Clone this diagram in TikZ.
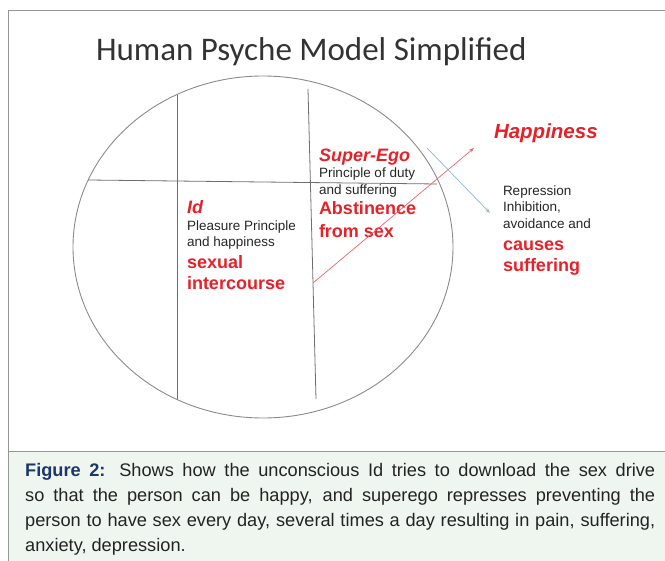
\documentclass[tikz,border=0pt]{standalone}
\usepackage{fontspec}
\setmainfont{Liberation Sans}
\newfontfamily\titlefont{Carlito}
\usetikzlibrary{arrows.meta}
\definecolor{redtxt}{RGB}{232,32,40}
\definecolor{redline}{RGB}{235,100,105}
\definecolor{blueline}{RGB}{140,180,225}
\definecolor{frame}{RGB}{150,150,150}
\definecolor{capbg}{RGB}{239,246,239}
\definecolor{navy}{RGB}{30,55,105}
\definecolor{captxt}{RGB}{35,35,35}
\definecolor{psy}{RGB}{110,110,110}
\tikzset{
  lbl/.style={anchor=base west,inner sep=0pt,outer sep=0pt},
  small/.style={lbl,font=\fontsize{13.5}{16}\selectfont,text=black!85},
  bigred/.style={lbl,font=\fontsize{18}{22}\selectfont\bfseries,text=redtxt},
  itred/.style={lbl,font=\fontsize{18}{22}\selectfont\bfseries\itshape,text=redtxt},
  divider/.style={draw=psy,line width=0.8pt},
  tip/.style={-{Stealth[length=5pt,width=3.5pt]},line width=0.7pt}
}
\begin{document}
\begin{tikzpicture}[x=1pt,y=-1pt]
\useasboundingbox (0,0) rectangle (665,561);
% caption background and frame
\fill[capbg] (8.5,452) rectangle (665,561);
\draw[frame,line width=1pt] (665,11) -- (8,11) -- (8,561);
\draw[frame,line width=1pt] (8,452) -- (665,452);
% title
\node[lbl,font=\titlefont\fontsize{33}{38}\selectfont,text=black!80] (title) at (96,61) {Human Psyche Model Simplified};
% psyche ellipse and dividers
\draw[psy!80,line width=0.9pt] (263,247) ellipse [x radius=190,y radius=171];
\draw[divider] (88,180) -- (437,184);
\draw[divider] (177,95) -- (177,399);
\draw[divider] (308,89) -- (316,399);
% Id
\node[itred] (id) at (187,214) {Id};
\node[small] (id1) at (187,231) {Pleasure Principle};
\node[small] (id2) at (187,247) {and happiness};
\node[bigred] (id3) at (187,269) {sexual};
\node[bigred] (id4) at (187,290) {intercourse};
% Super-Ego
\node[itred] (se) at (319,162) {Super-Ego};
\node[small] (se1) at (319,178) {Principle of duty};
\node[small] (se2) at (319,195) {and suffering};
\node[bigred] (se3) at (319,215) {Abstinence};
\node[bigred] (se4) at (319,238) {from sex};
% right side
\node[lbl,font=\fontsize{20.5}{24}\selectfont\bfseries\itshape,text=redtxt] (hap) at (494,139) {Happiness};
\node[small] (r1) at (503,196) {Repression};
\node[small] (r2) at (503,212) {Inhibition,};
\node[small] (r3) at (503,229) {avoidance and};
\node[bigred] (r4) at (503,251) {causes};
\node[bigred] (r5) at (503,272) {suffering};
% arrows
\coordinate (ra) at (313,283);
\coordinate (rb) at (474,148);
\coordinate (ba) at (427,148);
\coordinate (bb) at (490,213);
\draw[tip,redline] (ra) -- (rb);
\draw[tip,blueline] (ba) -- (bb);
% caption
\node[anchor=north west,inner sep=0pt,text width=630pt,align=justify,
      font=\fontsize{18.2}{25}\selectfont,text=captxt] (cap) at (25,463.5)
{{\bfseries\color{navy}Figure 2:} Shows how the unconscious Id tries to download the sex drive\linebreak so that the person can be happy, and superego represses preventing the\linebreak person to have sex every day, several times a day resulting in pain, suffering,\linebreak anxiety, depression.};
\end{tikzpicture}
\end{document}
